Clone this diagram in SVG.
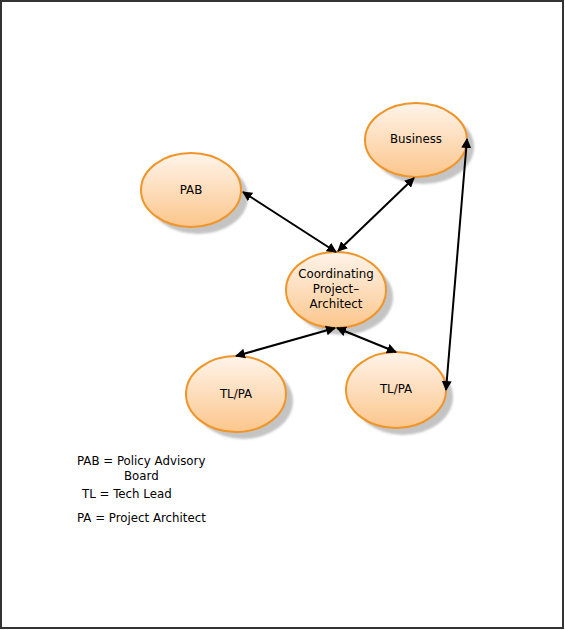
<svg xmlns="http://www.w3.org/2000/svg" width="565" height="630" viewBox="0 0 565 630">
<defs>
<linearGradient id="g" x1="0" y1="0" x2="0" y2="1">
<stop offset="0" stop-color="#fff4ea"/>
<stop offset="1" stop-color="#fbc68c"/>
</linearGradient>
<marker id="a" viewBox="0 0 10 10" refX="9" refY="5" markerWidth="10" markerHeight="10" markerUnits="userSpaceOnUse" orient="auto-start-reverse">
<path d="M0,0 L10,5 L0,10 z" fill="#000"/>
</marker>
<filter id="b" x="-20%" y="-20%" width="140%" height="140%"><feGaussianBlur stdDeviation="1"/></filter>
</defs>
<style>
.sh{fill:#c4c4c4;filter:url(#b)}
.el{fill:url(#g);stroke:#f0952a;stroke-width:2}
.t{font-family:"DejaVu Sans",sans-serif;font-size:11.8px;fill:#000;text-anchor:middle}
.c{stroke:#000;stroke-width:2;fill:none;marker-start:url(#a);marker-end:url(#a)}
.lg{font-family:"DejaVu Sans",sans-serif;font-size:11.8px;fill:#000}
</style>
<rect x="1" y="1" width="562" height="627" fill="#fff" stroke="#333" stroke-width="2"/>
<g id="PAB"><ellipse class="sh" cx="198" cy="197" rx="50" ry="37"/><ellipse class="el" cx="191" cy="190" rx="50" ry="37"/><text class="t" x="191" y="194">PAB</text></g>
<g id="Business"><ellipse class="sh" cx="423" cy="147" rx="51" ry="37"/><ellipse class="el" cx="416" cy="140" rx="51" ry="37"/><text class="t" x="416" y="143">Business</text></g>
<g id="Coord"><ellipse class="sh" cx="343" cy="297" rx="50" ry="38"/><ellipse class="el" cx="336" cy="290" rx="50" ry="38"/><text class="t" x="336" y="278">Coordinating</text><text class="t" x="336" y="293">Project–</text><text class="t" x="336" y="308">Architect</text></g>
<g id="TLPA1"><ellipse class="sh" cx="243" cy="401" rx="50" ry="38"/><ellipse class="el" cx="236" cy="394" rx="50" ry="38"/><text class="t" x="236" y="398">TL/PA</text></g>
<g id="TLPA2"><ellipse class="sh" cx="403" cy="397" rx="50" ry="38"/><ellipse class="el" cx="396" cy="390" rx="50" ry="38"/><text class="t" x="396" y="393">TL/PA</text></g>
<g id="connectors">
<line class="c" x1="243" y1="192" x2="336" y2="252"/>
<line class="c" x1="414" y1="178" x2="338" y2="251"/>
<line class="c" x1="335" y1="328" x2="236" y2="356"/>
<line class="c" x1="337" y1="328" x2="396" y2="352"/>
<line class="c" x1="467" y1="139" x2="446" y2="390"/>
</g>
<g id="legend">
<text class="lg" x="77" y="465">PAB = Policy Advisory</text>
<text class="lg" x="124" y="480">Board</text>
<text class="lg" x="82" y="498">TL = Tech Lead</text>
<text class="lg" x="77" y="522">PA = Project Architect</text>
</g>
</svg>
